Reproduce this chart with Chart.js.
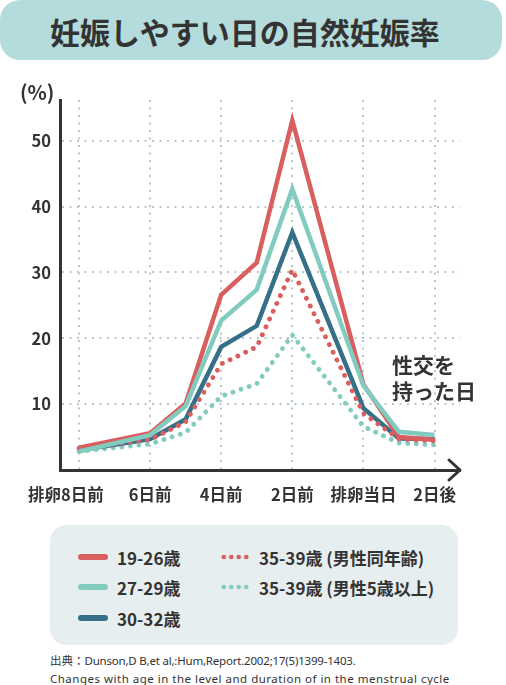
<!DOCTYPE html>
<html lang="ja">
<head>
<meta charset="utf-8">
<script src="https://cdn.jsdelivr.net/npm/chart.js@4.4.1/dist/chart.umd.min.js"></script>
<style>
  body { margin: 0; background: #fff; color: #333; font-family: "Noto Sans CJK JP", "Noto Sans", sans-serif; }
  #page { position: relative; width: 506px; height: 685px; overflow: hidden; }
  #chart { position: absolute; left: 0; top: 0; }
  #title {
    position: absolute; left: 0; top: 0; width: 502px; height: 60px;
    background: #b5dcdc; border-radius: 20px;
    font-size: 30px; font-weight: 700; line-height: 62px; text-indent: 50px;
  }
  #unit { position: absolute; left: 20px; top: 79px; font-size: 20px; font-weight: 700; line-height: 26px; }
  #note { position: absolute; left: 392px; top: 351px; font-size: 21px; font-weight: 700; line-height: 26px; }
  #legend {
    position: absolute; left: 50px; top: 525px; width: 408px; height: 120px;
    background: #e6eef0; border-radius: 16px;
  }
  .item { position: absolute; height: 24px; display: flex; align-items: center; font-size: 17px; font-weight: 700; white-space: nowrap; }
  .swatch { width: 30px; height: 6px; border-radius: 3px; margin-right: 9px; }
  .dots { width: 30px; height: 6px; margin-right: 9px; }
  #source { position: absolute; left: 50px; top: 652px; font-size: 11.5px; line-height: 16.5px; }
  #source .latin { font-family: "Noto Sans", sans-serif; }
  #source .l1 { letter-spacing: -0.2px; }
  #source .l2 { letter-spacing: 0.5px; }
</style>
</head>
<body>
<div id="page">
  <canvas id="chart" width="506" height="520"></canvas>
  <div id="title">妊娠しやすい日の自然妊娠率</div>
  <div id="unit">(%)</div>
  <div id="note">性交を<br>持った日</div>
  <div id="legend"></div>
  <div id="source">出典：<span class="latin l1">Dunson,D B,et al,:Hum,Report.2002;17(5)1399-1403.</span><br><span class="latin l2">Changes with age in the level and duration of in the menstrual cycle</span></div>
</div>
<script>
// days relative to ovulation (vertices of the lines)
const days = [-8, -6, -5, -4, -3, -2, 0, 1, 2];

// x axis tick positions and their labels
const dayTicks = [-8, -6, -4, -2, 0, 2];
const dayLabels = ['排卵8日前', '6日前', '4日前', '2日前', '排卵当日', '2日後'];

// y axis ticks (%)
const rateTicks = [10, 20, 30, 40, 50];

// series values (%)
const age19to26 = [3.4, 5.6, 10.1, 26.6, 31.5, 53.1, 13.0, 5.0, 4.6];
const age27to29 = [2.8, 5.3, 9.7, 22.7, 27.4, 42.7, 12.8, 5.8, 5.3];
const age30to32 = [3.0, 4.7, 7.7, 18.7, 21.9, 36.1, 9.4, 4.8, 4.7];
const age35to39SameAge = [3.3, 4.6, 7.3, 16.1, 18.7, 30.4, 8.6, 4.7, 4.4];
const age35to39Older = [2.8, 3.95, 5.7, 11.2, 13.1, 20.5, 6.6, 4.1, 3.8];

const seriesLabels = ['19-26歳', '27-29歳', '30-32歳', '35-39歳 (男性同年齢)', '35-39歳 (男性5歳以上)'];

const RED = '#d95f5f';
const TEAL = '#82cbbf';
const NAVY = '#366f88';

function points(values) {
  return days.map((d, i) => ({ x: d, y: values[i] }));
}

function solid(label, values, color, order) {
  return {
    label: label,
    data: points(values),
    borderColor: color,
    backgroundColor: color,
    borderWidth: 4.5,
    pointRadius: 0,
    tension: 0,
    fill: false,
    order: order
  };
}

function dotted(label, values, color, order) {
  const ds = solid(label, values, color, order);
  ds.borderDash = [0.1, 8.5];
  ds.borderCapStyle = 'round';
  ds.borderWidth = 4.8;
  return ds;
}

const datasets = [
  solid(seriesLabels[0], age19to26, RED, 1),
  solid(seriesLabels[1], age27to29, TEAL, 0),
  solid(seriesLabels[2], age30to32, NAVY, 3),
  dotted(seriesLabels[3], age35to39SameAge, RED, 2),
  dotted(seriesLabels[4], age35to39Older, TEAL, 4)
];

// arrow head at the end of the x axis
const axisArrow = {
  id: 'axisArrow',
  afterDraw(chart) {
    const { ctx, chartArea: a } = chart;
    ctx.save();
    ctx.strokeStyle = '#333';
    ctx.lineWidth = 3;
    ctx.lineCap = 'round';
    ctx.lineJoin = 'round';
    ctx.beginPath();
    ctx.moveTo(a.right - 11, a.bottom - 10);
    ctx.lineTo(a.right, a.bottom);
    ctx.lineTo(a.right - 11, a.bottom + 10);
    ctx.stroke();
    ctx.restore();
  }
};

// x labels drawn by hand so the first one can sit a bit left of its gridline
const dayLabelPlugin = {
  id: 'dayLabels',
  afterDraw(chart) {
    const { ctx } = chart;
    const xs = chart.scales.x;
    ctx.save();
    ctx.fillStyle = '#333';
    ctx.font = 'bold 16.5px "Noto Sans CJK JP", "Noto Sans", sans-serif';
    ctx.textAlign = 'center';
    ctx.textBaseline = 'middle';
    dayTicks.forEach((v, i) => {
      const nudge = i === 0 ? -13 : 0;
      ctx.fillText(dayLabels[i], xs.getPixelForValue(v) + nudge, xs.top + 25);
    });
    ctx.restore();
  }
};

Chart.defaults.font.family = '"Noto Sans CJK JP", "Noto Sans", sans-serif';

const gridColor = '#b5c9c6';

new Chart(document.getElementById('chart').getContext('2d'), {
  type: 'line',
  data: { datasets: datasets },
  options: {
    responsive: false,
    animation: false,
    layout: { padding: { top: 100, right: 46, bottom: 0, left: 0 } },
    plugins: {
      legend: { display: false },
      tooltip: { enabled: false }
    },
    scales: {
      x: {
        type: 'linear',
        min: -8.534,
        max: 2.717,
        afterBuildTicks: scale => { scale.ticks = dayTicks.map(v => ({ value: v })); },
        afterFit: scale => { scale.height = 50; },
        ticks: { display: false },
        grid: { color: gridColor, lineWidth: 2, drawTicks: false },
        border: { color: '#333', width: 3, dash: [2, 5.5] }
      },
      y: {
        min: 0,
        max: 56.2,
        afterBuildTicks: scale => { scale.ticks = rateTicks.map(v => ({ value: v })); },
        afterFit: scale => { scale.width = 60; },
        ticks: {
          padding: 9,
          color: '#333',
          font: { size: 16.5, weight: 'bold' }
        },
        grid: { color: gridColor, lineWidth: 2, drawTicks: false },
        border: { color: '#333', width: 3, dash: [2, 5.5] }
      }
    }
  },
  plugins: [axisArrow, dayLabelPlugin]
});

// HTML legend built from the datasets
const slots = [
  { left: 28, top: 20 }, { left: 28, top: 50 }, { left: 28, top: 81 },
  { left: 170, top: 20 }, { left: 170, top: 50 }
];
const legend = document.getElementById('legend');
datasets.forEach((ds, i) => {
  const item = document.createElement('div');
  item.className = 'item';
  item.style.left = slots[i].left + 'px';
  item.style.top = slots[i].top + 'px';
  const sw = document.createElement('span');
  if (ds.borderDash) {
    sw.className = 'dots';
    sw.style.background = 'radial-gradient(circle, ' + ds.borderColor + ' 2px, transparent 2.6px) 0 0 / 7.5px 6px repeat-x';
  } else {
    sw.className = 'swatch';
    sw.style.background = ds.borderColor;
  }
  const tx = document.createElement('span');
  tx.textContent = ds.label;
  item.appendChild(sw);
  item.appendChild(tx);
  legend.appendChild(item);
});
</script>
</body>
</html>
